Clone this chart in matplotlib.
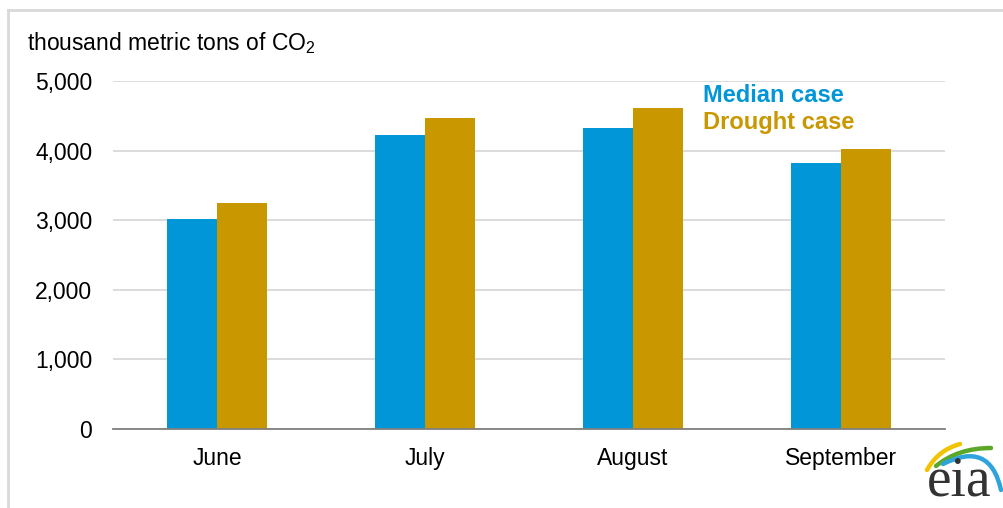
import numpy as np
import matplotlib.pyplot as plt
from matplotlib.lines import Line2D
from matplotlib.path import Path
from matplotlib.patches import PathPatch

plt.rcParams['font.family'] = ['Liberation Sans', 'DejaVu Sans']
plt.rcParams['mathtext.fontset'] = 'custom'
plt.rcParams['mathtext.rm'] = 'Liberation Sans'

months = ['June', 'July', 'August', 'September']
median_case = [3020, 4230, 4330, 3820]
drought_case = [3250, 4470, 4610, 4020]
yticks = [0, 1000, 2000, 3000, 4000, 5000]

blue = '#0096d7'
gold = '#c99700'

fig = plt.figure(figsize=(10.04, 5.08), dpi=100)
ax = fig.add_axes([113/1004, 1-429/508, (945-113)/1004, (429-81)/508])

x = np.arange(len(months))
w = 0.24
ax.bar(x - w/2, median_case, w, color=blue, zorder=3)
ax.bar(x + w/2, drought_case, w, color=gold, zorder=3)

ax.set_xlim(-0.5, 3.5)
ax.set_ylim(0, 5000)
ax.set_yticks(yticks)
ax.set_yticklabels([f'{v:,}' for v in yticks])
ax.set_xticks(x)
ax.set_xticklabels(months)
ax.tick_params(axis='both', length=0, labelsize=16.5, colors='#000000')
ax.tick_params(axis='x', pad=13)
ax.tick_params(axis='y', pad=15)
ax.grid(axis='y', color='#d9d9d9', linewidth=1.3, zorder=0)
for s in ['top', 'right', 'left']:
    ax.spines[s].set_visible(False)
ax.spines['bottom'].set_color('#7f7f7f')
ax.spines['bottom'].set_linewidth(1.3)
ax.spines['bottom'].set_zorder(4)

fig.text(27/1004, 1-43/508, 'thousand metric tons of CO$_2$', fontsize=16.5,
         va='center', ha='left')
fig.text(703/1004, 1-95/508, 'Median case', color=blue, fontsize=17,
         fontweight='bold', va='center')
fig.text(703/1004, 1-122/508, 'Drought case', color=gold, fontsize=17,
         fontweight='bold', va='center')

# frame
fig.add_artist(Line2D([8/1004, 8/1004], [0, 1-10/508], transform=fig.transFigure,
                      color='#d9d9d9', linewidth=2))
fig.add_artist(Line2D([8/1004, 1], [1-10/508, 1-10/508], transform=fig.transFigure,
                      color='#d9d9d9', linewidth=2))

# eia logo, drawn in pixel coordinates
lg = fig.add_axes([900/1004, 0, 104/1004, 80/508])
lg.set_xlim(900, 1004)
lg.set_ylim(508, 428)
lg.axis('off')
swooshes = [
    ([(927, 470), (938, 450), (960, 444)], '#f2c300'),
    ([(936, 466), (958, 448), (991, 448)], '#5ba829'),
    ([(943, 464), (990, 440), (1001, 490)], '#2ea3dc'),
]
for pts, col in swooshes:
    p = Path(pts, [Path.MOVETO, Path.CURVE3, Path.CURVE3])
    lg.add_patch(PathPatch(p, fill=False, edgecolor=col, lw=3.2, capstyle='round'))
lg.text(959, 496, 'eia', family='Liberation Serif', fontsize=40, color='#333333',
        ha='center', va='baseline')

fig.savefig('out.png', dpi=100)
